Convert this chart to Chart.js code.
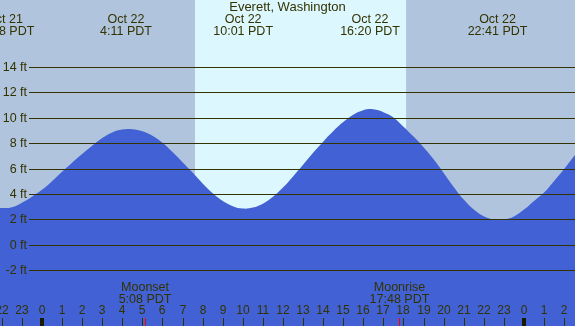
<!DOCTYPE html>
<html>
<head>
<meta charset="utf-8">
<script src="https://cdn.jsdelivr.net/npm/chart.js@4.4.1/dist/chart.umd.min.js"></script>
<style>
  body { margin: 0; background: #b0c4de; }
  #wrap { width: 575px; height: 326px; }
</style>
</head>
<body>
<div id="wrap"><canvas id="tide"></canvas></div>
<script>
// hours counted from Oct 22 00:00 PDT, heights in ft
const hours = [-2.5, -2, -1.5, -1, -0.5, 0, 0.5, 1, 1.5, 2, 2.5, 3, 3.5, 4, 4.5, 5, 5.5, 6, 6.5, 7,
  7.5, 8, 8.5, 9, 9.5, 10, 10.5, 11, 11.5, 12, 12.5, 13, 13.5, 14, 14.5, 15, 15.5, 16, 16.5, 17,
  17.5, 18, 18.5, 19, 19.5, 20, 20.5, 21, 21.5, 22, 22.5, 23, 23.5, 24, 24.5, 25, 25.5, 26, 26.5, 27];
const heights = [2.95, 2.88, 2.94, 3.3, 3.78, 4.32, 5.0, 5.75, 6.46, 7.15, 7.8, 8.4, 8.84, 9.07, 9.1, 8.94, 8.58, 8.03, 7.3, 6.5,
  5.68, 4.82, 4.04, 3.43, 3.03, 2.84, 2.92, 3.23, 3.77, 4.5, 5.38, 6.3, 7.24, 8.12, 8.94, 9.66, 10.24, 10.6, 10.67, 10.44,
  10.03, 9.3, 8.52, 7.68, 6.73, 5.65, 4.55, 3.55, 2.77, 2.24, 1.98, 1.98, 2.22, 2.76, 3.44, 4.1, 5.02, 5.96, 6.98, 7.9];

const gridFeet = [-2, 0, 2, 4, 6, 8, 10, 12, 14];

const extremeHours = [-1.867, 4.183, 10.017, 16.333, 22.683];
const extremeDates = ['Oct 21', 'Oct 22', 'Oct 22', 'Oct 22', 'Oct 22'];
const extremeTimes = ['22:08 PDT', '4:11 PDT', '10:01 PDT', '16:20 PDT', '22:41 PDT'];

const hourTicks = [-2, -1, 0, 1, 2, 3, 4, 5, 6, 7, 8, 9, 10, 11, 12, 13, 14, 15, 16, 17, 18, 19, 20, 21, 22, 23, 24, 25, 26];

const moonHours = [5.133, 17.8];
const moonNames = ['Moonset', 'Moonrise'];
const moonTimes = ['5:08 PDT', '17:48 PDT'];

const sunrise = 7.62;
const sunset = 18.13;

const ink = '#333300';
const font = '"Liberation Sans", Arial, sans-serif';

const decor = {
  id: 'decor',
  beforeDraw(chart) {
    const { ctx, chartArea: a, scales: { x } } = chart;
    ctx.save();
    ctx.fillStyle = '#b0c4de';
    ctx.fillRect(a.left, a.top, a.right - a.left, a.bottom - a.top);
    ctx.fillStyle = '#ddf7ff';
    const x1 = x.getPixelForValue(sunrise), x2 = x.getPixelForValue(sunset);
    ctx.fillRect(x1, a.top, x2 - x1, a.bottom - a.top);
    ctx.restore();
  },
  afterDatasetsDraw(chart) {
    const { ctx, chartArea: a, scales: { x, y } } = chart;
    ctx.save();
    // grid lines + ft labels
    ctx.strokeStyle = ink;
    ctx.lineWidth = 1;
    ctx.fillStyle = ink;
    ctx.font = '12.5px ' + font;
    ctx.textAlign = 'right';
    ctx.textBaseline = 'middle';
    gridFeet.forEach(f => {
      const py = Math.round(y.getPixelForValue(f)) + 0.5;
      ctx.beginPath();
      ctx.moveTo(29, py);
      ctx.lineTo(a.right, py);
      ctx.stroke();
      ctx.fillText(f + ' ft', 27, py);
    });

    // title and tide extremes
    ctx.textAlign = 'center';
    ctx.font = '13px ' + font;
    ctx.fillText('Everett, Washington', (a.left + a.right) / 2, 7);
    ctx.font = '12.5px ' + font;
    extremeHours.forEach((h, i) => {
      const px = x.getPixelForValue(h);
      ctx.fillText(extremeDates[i], px, 19.5);
      ctx.fillText(extremeTimes[i], px, 31.5);
    });

    // moon events
    moonHours.forEach((h, i) => {
      const px = x.getPixelForValue(h);
      ctx.fillText(moonNames[i], px, 287.5);
      ctx.fillText(moonTimes[i], px, 299.5);
    });

    // hour labels and ticks
    ctx.font = '12px ' + font;
    hourTicks.forEach(h => {
      const px = Math.round(x.getPixelForValue(h));
      ctx.fillStyle = ink;
      ctx.fillText(String(((h % 24) + 24) % 24), px, 311);
      if (h % 24 === 0) {
        ctx.fillStyle = '#1a1a00';
        ctx.fillRect(px - 2, 318, 4, 8);
      } else {
        ctx.fillRect(px, 318, 1, 8);
      }
    });
    ctx.fillStyle = '#ff0000';
    moonHours.forEach(h => {
      ctx.fillRect(Math.round(x.getPixelForValue(h)), 318, 1, 8);
    });
    ctx.restore();
  }
};

new Chart(document.getElementById('tide'), {
  type: 'line',
  data: {
    datasets: [{
      data: hours.map((h, i) => ({ x: h, y: heights[i] })),
      fill: 'start',
      backgroundColor: 'rgb(65, 97, 212)',
      borderWidth: 0,
      pointRadius: 0,
      tension: 0.4
    }]
  },
  options: {
    responsive: true,
    maintainAspectRatio: false,
    animation: false,
    devicePixelRatio: 1,
    layout: { padding: 0 },
    plugins: { legend: { display: false }, tooltip: { enabled: false } },
    scales: {
      x: { type: 'linear', min: -2.09, max: 26.54, display: false },
      y: { min: -6.42, max: 19.29, display: false }
    }
  },
  plugins: [decor]
});
</script>
</body>
</html>
